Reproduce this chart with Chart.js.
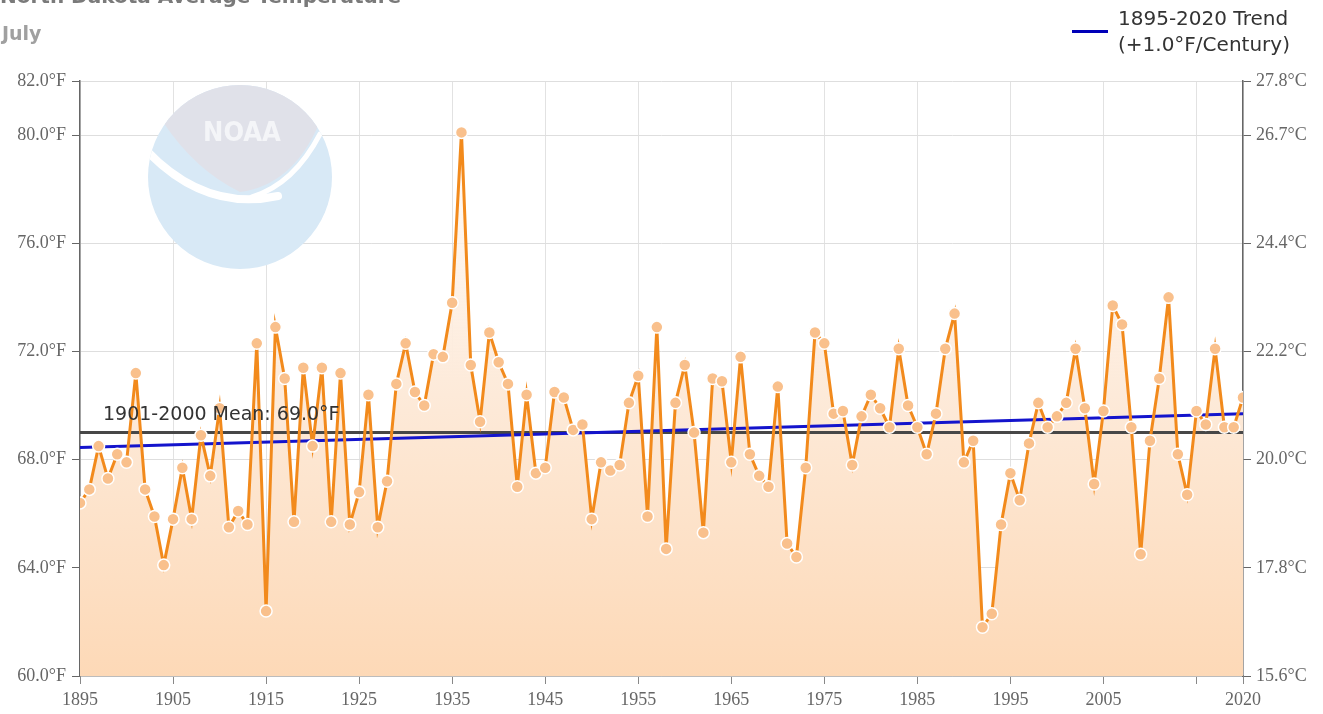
<!DOCTYPE html>
<html>
<head>
<meta charset="utf-8">
<script src="https://cdn.jsdelivr.net/npm/chart.js@4/dist/chart.umd.min.js"></script>
<style>
  body { margin: 0; background: #fff; overflow: hidden; }
  #wrap { position: relative; width: 1323px; height: 714px; }
  #chart { position: absolute; left: 0; top: 0; }
  .title { position: absolute; left: 0; top: -16px; font: bold 20px "DejaVu Sans", sans-serif; color: #7a7a7a; white-space: nowrap; }
  .sub { position: absolute; left: 2px; top: 22px; font: bold 19px "DejaVu Sans", sans-serif; color: #a0a0a0; }
  .legend { position: absolute; left: 1072px; top: 5px; font: 20px "DejaVu Sans", sans-serif; color: #333; line-height: 26px; }
  .legend .swatch { position: absolute; left: 0; top: 25px; width: 36px; height: 3px; background: #0000b8; }
  .legend .txt { position: absolute; left: 46px; top: 0; white-space: nowrap; }
</style>
</head>
<body>
<div id="wrap">
  <canvas id="chart" width="1323" height="714"></canvas>
  <div class="title">North Dakota Average Temperature</div>
  <div class="sub">July</div>
  <div class="legend">
    <div class="swatch"></div>
    <div class="txt">1895-2020 Trend<br>(+1.0°F/Century)</div>
  </div>
</div>
<script>
// July average temperature (°F), 1895..2020
const firstYear = 1895;
const temps = [
  66.4, 66.9, 68.5, 67.3, 68.2, 67.9, 71.2, 66.9, 65.9, 64.1,
  65.8, 67.7, 65.8, 68.9, 67.4, 69.9, 65.5, 66.1, 65.6, 72.3,
  62.4, 72.9, 71.0, 65.7, 71.4, 68.5, 71.4, 65.7, 71.2, 65.6,
  66.8, 70.4, 65.5, 67.2, 70.8, 72.3, 70.5, 70.0, 71.9, 71.8,
  73.8, 80.1, 71.5, 69.4, 72.7, 71.6, 70.8, 67.0, 70.4, 67.5,
  67.7, 70.5, 70.3, 69.1, 69.3, 65.8, 67.9, 67.6, 67.8, 70.1,
  71.1, 65.9, 72.9, 64.7, 70.1, 71.5, 69.0, 65.3, 71.0, 70.9,
  67.9, 71.8, 68.2, 67.4, 67.0, 70.7, 64.9, 64.4, 67.7, 72.7,
  72.3, 69.7, 69.8, 67.8, 69.6, 70.4, 69.9, 69.2, 72.1, 70.0,
  69.2, 68.2, 69.7, 72.1, 73.4, 67.9, 68.7, 61.8, 62.3, 65.6,
  67.5, 66.5, 68.6, 70.1, 69.2, 69.6, 70.1, 72.1, 69.9, 67.1,
  69.8, 73.7, 73.0, 69.2, 64.5, 68.7, 71.0, 74.0, 68.2, 66.7,
  69.8, 69.3, 72.1, 69.2, 69.2, 70.3
];
const years = temps.map((_, i) => firstYear + i);

const trendYears = [1895, 2020];
const trendValues = [68.45, 69.7];
const meanValue = 69.0;
const meanLabel = '1901-2000 Mean: 69.0°F';

const xTicks = [1895, 1905, 1915, 1925, 1935, 1945, 1955, 1965, 1975, 1985, 1995, 2005, 2015, 2020];
const hiddenXLabels = [2015];
const yTicks = [60, 64, 68, 72, 76, 80, 82];

const axisFont = { family: '"Liberation Serif", serif', size: 18 };

// NOAA watermark behind the data
const logoPlugin = {
    id: 'logo',
    beforeDatasetsDraw(chart) {
        const ctx = chart.ctx;
        const cx = 240, cy = 177, r = 92;
        ctx.save();
        ctx.beginPath();
        ctx.arc(cx, cy, r, 0, Math.PI * 2);
        ctx.fillStyle = '#d8e9f6';
        ctx.fill();
        ctx.clip();
        ctx.beginPath();
        ctx.moveTo(140, 80);
        ctx.lineTo(340, 80);
        ctx.lineTo(318, 126);
        ctx.quadraticCurveTo(292, 185, 240, 192);
        ctx.quadraticCurveTo(195, 170, 163, 122);
        ctx.closePath();
        ctx.fillStyle = '#e0e1e9';
        ctx.fill();
        ctx.strokeStyle = '#ffffff';
        ctx.lineCap = 'round';
        ctx.lineWidth = 8;
        ctx.beginPath();
        ctx.moveTo(146, 150);
        ctx.quadraticCurveTo(205, 212, 278, 196);
        ctx.stroke();
        ctx.lineWidth = 5;
        ctx.beginPath();
        ctx.moveTo(320, 134);
        ctx.quadraticCurveTo(294, 184, 252, 197);
        ctx.stroke();
        ctx.fillStyle = '#f4f5f8';
        ctx.font = 'bold 27px "DejaVu Sans Condensed", "DejaVu Sans", sans-serif';
        ctx.textAlign = 'center';
        ctx.textBaseline = 'middle';
        ctx.fillText('NOAA', 242, 134);
        ctx.restore();
    }
};

const meanTextPlugin = {
    id: 'meanText',
    afterDatasetsDraw(chart) {
        const ctx = chart.ctx;
        const x = chart.scales.x.getPixelForValue(firstYear) + 23;
        const y = chart.scales.y.getPixelForValue(meanValue) - 8;
        ctx.save();
        ctx.font = '19px "DejaVu Sans", sans-serif';
        ctx.fillStyle = '#333';
        ctx.textBaseline = 'bottom';
        ctx.fillText(meanLabel, x, y);
        ctx.restore();
    }
};

const ctx = document.getElementById('chart').getContext('2d');
new Chart(ctx, {
    type: 'line',
    data: {
        datasets: [
            {
                label: 'Temperature',
                data: years.map((yr, i) => ({ x: yr, y: temps[i] })),
                borderColor: '#f28a1c',
                borderWidth: 3,
                tension: 0,
                fill: 'start',
                backgroundColor: (c) => {
                    const area = c.chart.chartArea;
                    if (!area) return '#fde3cb';
                    const g = c.chart.ctx.createLinearGradient(0, area.top, 0, area.bottom);
                    g.addColorStop(0, 'rgba(255,250,245,0.6)');
                    g.addColorStop(0.5, '#fdebdb');
                    g.addColorStop(1, '#fdd9b7');
                    return g;
                },
                pointRadius: 6,
                pointBackgroundColor: '#f9c08c',
                pointBorderColor: '#ffffff',
                pointBorderWidth: 1.5,
                order: 0
            },
            {
                label: 'Trend',
                data: trendYears.map((yr, i) => ({ x: yr, y: trendValues[i] })),
                borderColor: '#1414cc',
                borderWidth: 3,
                pointRadius: 0,
                fill: false,
                order: 1
            },
            {
                label: 'Mean',
                data: trendYears.map(yr => ({ x: yr, y: meanValue })),
                borderColor: '#474747',
                borderWidth: 3,
                pointRadius: 0,
                fill: false,
                order: 2
            }
        ]
    },
    options: {
        responsive: false,
        devicePixelRatio: 1,
        animation: false,
        layout: { padding: { top: 81, left: 0, right: 0, bottom: 0 } },
        plugins: {
            legend: { display: false },
            tooltip: { enabled: false },
            filler: { drawTime: 'beforeDatasetsDraw' }
        },
        scales: {
            x: {
                type: 'linear',
                min: 1895,
                max: 2020,
                afterBuildTicks: s => { s.ticks = xTicks.map(v => ({ value: v })); },
                afterFit: s => { s.height = 38; },
                ticks: {
                    autoSkip: false,
                    maxRotation: 0,
                    padding: 5,
                    color: '#666',
                    font: axisFont,
                    callback: v => hiddenXLabels.includes(v) ? '' : String(v)
                },
                grid: { color: '#e2e2e2', tickColor: '#888', tickLength: 8 },
                border: { color: '#999', width: 1.5 }
            },
            y: {
                position: 'left',
                min: 60,
                max: 82,
                afterBuildTicks: s => { s.ticks = yTicks.map(v => ({ value: v })); },
                afterFit: s => { s.width = 80; },
                ticks: {
                    padding: 6,
                    color: '#666',
                    font: axisFont,
                    callback: v => v.toFixed(1) + '°F'
                },
                grid: { color: '#dedede', tickColor: '#666', tickLength: 8 },
                border: { color: '#666', width: 1.5 }
            },
            y2: {
                position: 'right',
                min: 60,
                max: 82,
                afterBuildTicks: s => { s.ticks = yTicks.map(v => ({ value: v })); },
                afterFit: s => { s.width = 80; },
                ticks: {
                    padding: 5,
                    color: '#666',
                    font: axisFont,
                    callback: v => ((v - 32) * 5 / 9).toFixed(1) + '°C'
                },
                grid: { drawOnChartArea: false, tickColor: '#666', tickLength: 8 },
                border: { color: '#666', width: 1.5 }
            }
        }
    },
    plugins: [logoPlugin, meanTextPlugin]
});
</script>
</body>
</html>
